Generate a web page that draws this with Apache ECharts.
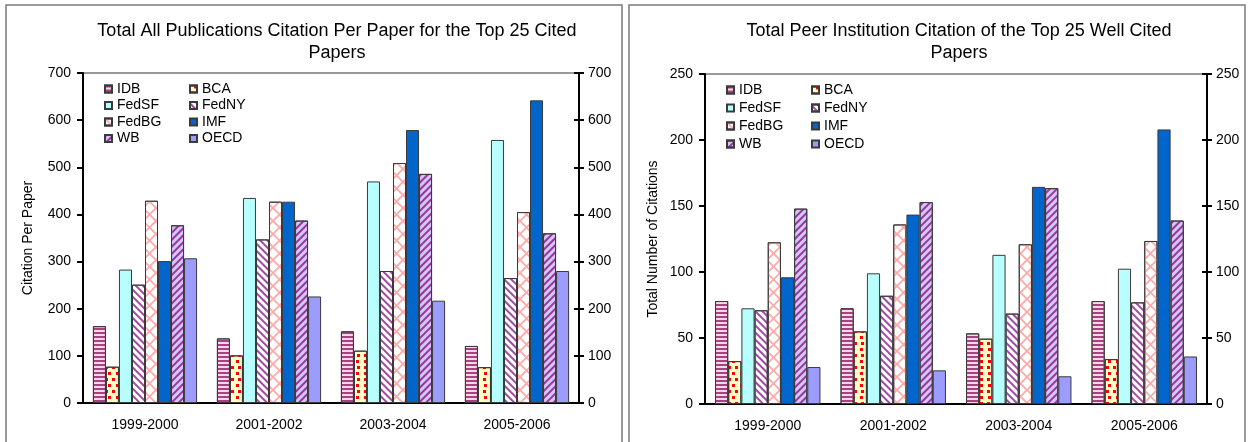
<!DOCTYPE html>
<html>
<head>
<meta charset="utf-8">
<script src="https://cdn.jsdelivr.net/npm/echarts@6/dist/echarts.min.js"></script>
<style>
  html, body { margin: 0; padding: 0; background: #fff; }
  #chart { width: 1249px; height: 442px; }
</style>
</head>
<body>
<div id="chart"></div>
<script>
// Periods on the category axis
const categories = ['1999-2000', '2001-2002', '2003-2004', '2005-2006'];
const institutions = ['IDB', 'BCA', 'FedSF', 'FedNY', 'FedBG', 'IMF', 'WB', 'OECD'];

// Left panel: citations per paper (top 25 cited papers)
const perPaperIDB   = [163, 137, 152, 121];
const perPaperBCA   = [77, 101, 111, 76];
const perPaperFedSF = [283, 435, 470, 558];
const perPaperFedNY = [251, 347, 280, 265];
const perPaperFedBG = [429, 427, 509, 405];
const perPaperIMF   = [301, 427, 579, 642];
const perPaperWB    = [377, 387, 486, 360];
const perPaperOECD  = [307, 226, 217, 280];

// Right panel: total number of citations from peer institutions
const peerIDB   = [78, 72.5, 53.5, 78];
const peerBCA   = [32.5, 55, 49.5, 34];
const peerFedSF = [72.5, 99, 113, 102.5];
const peerFedNY = [71, 82, 68.5, 77];
const peerFedBG = [122.5, 136, 121, 123.5];
const peerIMF   = [96, 143.5, 164.5, 208];
const peerWB    = [148, 153, 163.5, 139];
const peerOECD  = [28, 25.5, 21, 36];

// Axis tick values
const perPaperTicks = { min: 0, max: 700, step: 100 };
const peerTicks = { min: 0, max: 250, step: 50 };

const perPaperValues = [perPaperIDB, perPaperBCA, perPaperFedSF, perPaperFedNY,
                        perPaperFedBG, perPaperIMF, perPaperWB, perPaperOECD];
const peerValues = [peerIDB, peerBCA, peerFedSF, peerFedNY,
                    peerFedBG, peerIMF, peerWB, peerOECD];

const FONT = '"Liberation Sans", Arial, sans-serif';

// Fill + hatch pattern per institution
const latticePath = 'path://M0,0L1,0L10,9L10,10L9,10L0,1Z M10,0L10,1L1,10L0,10L0,9L9,0Z';
const styles = {
  IDB:   { color: '#f6d8e8', decal: { symbol: 'rect', symbolSize: 1, dashArrayX: [1, 0], dashArrayY: [2, 1.8], color: '#a8417f' } },
  BCA:   { color: '#ffffc8', decal: { symbol: 'rect', symbolSize: 1, dashArrayX: [[3, 4], [0, 3.5, 3, 0.5]], dashArrayY: [3, 3], color: '#ff0000' } },
  FedSF: { color: '#b8fefe' },
  FedNY: { color: '#ffffff', decal: { symbol: 'rect', symbolSize: 1, dashArrayX: [1, 0], dashArrayY: [1.6, 2.6], rotation: Math.PI / 4, color: '#a04aa4' } },
  FedBG: { color: '#ffffff', decal: { symbol: latticePath, symbolSize: 1, dashArrayX: [13, 0], dashArrayY: [13, 0], color: '#ffaaaa' } },
  IMF:   { color: '#0066cc' },
  WB:    { color: '#d2c8f6', decal: { symbol: 'rect', symbolSize: 1, dashArrayX: [1, 0], dashArrayY: [1.6, 2.4], rotation: -Math.PI / 4, color: '#9a349e' } },
  OECD:  { color: '#9c9cfc' }
};

function makeSeries(values, xIndex, yIndex) {
  return institutions.map((name, i) => ({
    name: name,
    type: 'bar',
    xAxisIndex: xIndex,
    yAxisIndex: yIndex,
    data: values[i],
    barGap: '0%',
    barCategoryGap: '16%',
    itemStyle: Object.assign({ borderColor: '#3a3a3a', borderWidth: 1 }, styles[name]),
    emphasis: { disabled: true },
    animation: false
  }));
}

function xAxes(gridIndex) {
  return [
    {
      type: 'category', gridIndex: gridIndex, data: categories, position: 'bottom',
      axisLine: { lineStyle: { color: '#000', width: 2 } },
      axisTick: { length: 5, lineStyle: { color: '#000', width: 2 } },
      axisLabel: { color: '#000', fontFamily: FONT, fontSize: 14, margin: 15 },
      splitLine: { show: false }
    },
    {
      type: 'category', gridIndex: gridIndex, data: categories, position: 'bottom',
      axisLine: { show: false },
      axisTick: { inside: true, length: 4, lineStyle: { color: '#000', width: 2 } },
      axisLabel: { show: false }, splitLine: { show: false }
    }
  ];
}

function yAxes(gridIndex, ticks, name, nameGap) {
  const base = {
    type: 'value', gridIndex: gridIndex,
    min: ticks.min, max: ticks.max, interval: ticks.step,
    splitLine: { show: false }
  };
  return [
    Object.assign({}, base, {
      position: 'left', name: name, nameLocation: 'middle', nameGap: nameGap, nameRotate: 90,
      nameTextStyle: { color: '#000', fontFamily: FONT, fontSize: 14 },
      axisLine: { show: true, lineStyle: { color: '#000', width: 2 } },
      axisTick: { show: true, length: 6, lineStyle: { color: '#000', width: 2 } },
      axisLabel: { color: '#000', fontFamily: FONT, fontSize: 14, margin: 12 }
    }),
    Object.assign({}, base, {
      position: 'right',
      axisLine: { show: true, lineStyle: { color: '#000', width: 2 } },
      axisTick: { show: true, length: 5, lineStyle: { color: '#000', width: 2 } },
      axisLabel: { color: '#000', fontFamily: FONT, fontSize: 14, margin: 9 }
    }),
    Object.assign({}, base, {
      position: 'right',
      axisLine: { show: false },
      axisTick: { show: true, inside: true, length: 5, lineStyle: { color: '#000', width: 2 } },
      axisLabel: { show: false }
    })
  ];
}

function legendColumn(left, top, names, gap) {
  return {
    left: left, top: top, orient: 'vertical', data: names,
    icon: 'rect', itemWidth: 7, itemHeight: 7, itemGap: gap,
    selectedMode: false,
    textStyle: { color: '#000', fontFamily: FONT, fontSize: 14 },
    padding: 0
  };
}

const col1 = ['IDB', 'FedSF', 'FedBG', 'WB'];
const col2 = ['BCA', 'FedNY', 'IMF', 'OECD'];

const titleStyle = { color: '#000', fontFamily: FONT, fontSize: 18, fontWeight: 'normal', lineHeight: 22 };

const chart = echarts.init(document.getElementById('chart'), null, { renderer: 'canvas' });
chart.setOption({
  animation: false,
  backgroundColor: '#ffffff',
  title: [
    {
      text: 'Total All Publications Citation Per Paper for the Top 25 Cited\nPapers',
      left: 332, top: 15, textAlign: 'center', textStyle: titleStyle
    },
    {
      text: 'Total Peer Institution Citation of the Top 25 Well Cited\nPapers',
      left: 954, top: 15, textAlign: 'center', textStyle: titleStyle
    }
  ],
  legend: [
    legendColumn(104, 82, col1, 2.5),
    legendColumn(189, 82, col2, 2.5),
    legendColumn(726, 83, col1, 4),
    legendColumn(811, 83, col2, 4)
  ],
  grid: [
    { left: 83, top: 73, width: 496, height: 330, show: true, borderColor: '#333', borderWidth: 1 },
    { left: 705, top: 74, width: 502, height: 330, show: true, borderColor: '#333', borderWidth: 1 }
  ],
  xAxis: xAxes(0).concat(xAxes(1)),
  yAxis: yAxes(0, perPaperTicks, 'Citation Per Paper', 48).concat(
         yAxes(1, peerTicks, 'Total Number of Citations', 45)),
  series: makeSeries(perPaperValues, 0, 0).concat(makeSeries(peerValues, 2, 3)),
  graphic: [
    { type: 'rect', shape: { x: 6, y: 5, width: 616, height: 460 }, style: { fill: null, stroke: '#7a7a7a', lineWidth: 1.5 }, silent: true },
    { type: 'rect', shape: { x: 629, y: 5, width: 616, height: 460 }, style: { fill: null, stroke: '#7a7a7a', lineWidth: 1.5 }, silent: true }
  ]
});
</script>
</body>
</html>
